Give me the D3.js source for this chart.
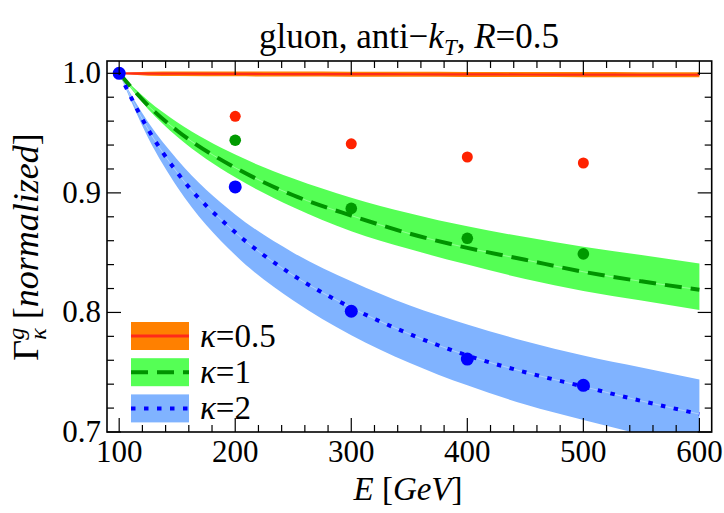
<!DOCTYPE html>
<html>
<head>
<meta charset="utf-8">
<script src="https://cdn.jsdelivr.net/npm/d3@7"></script>
<style>
  html, body { margin: 0; padding: 0; background: #fff; }
  svg text { font-family: "Liberation Serif", "Times New Roman", Times, serif; }
</style>
</head>
<body>
<svg id="chart"></svg>
<script>
// curve samples
const energies = [100, 125, 150, 200, 250, 300, 350, 400, 450, 500, 550, 600];

const redMid   = [1.0, 0.9998, 0.9997, 0.9995, 0.9994, 0.9993, 0.9992, 0.9991, 0.999, 0.9989, 0.9988, 0.9988];
const orangeHi = [1.0, 1.0014, 1.0016, 1.0016, 1.0015, 1.0014, 1.0013, 1.0012, 1.0011, 1.001, 1.0009, 1.0009];
const orangeLo = [1.0, 0.998, 0.9978, 0.9975, 0.9973, 0.9972, 0.9971, 0.997, 0.9969, 0.9968, 0.9967, 0.9967];

const greenMid = [1.0, 0.973, 0.952, 0.921, 0.898, 0.881, 0.866, 0.854, 0.844, 0.834, 0.826, 0.819];
const greenHi  = [1.0, 0.977, 0.959, 0.932, 0.912, 0.896, 0.883, 0.872, 0.863, 0.855, 0.848, 0.841];
const greenLo  = [1.0, 0.970, 0.947, 0.913, 0.888, 0.868, 0.853, 0.840, 0.828, 0.818, 0.810, 0.802];

const blueMid  = [1.0, 0.953, 0.917, 0.867, 0.831, 0.804, 0.782, 0.764, 0.750, 0.738, 0.726, 0.715];
const blueHi   = [1.0, 0.959, 0.928, 0.882, 0.850, 0.826, 0.806, 0.790, 0.776, 0.764, 0.754, 0.744];
const blueLo   = [1.0, 0.946, 0.905, 0.848, 0.810, 0.781, 0.758, 0.739, 0.723, 0.710, 0.698, 0.687];

// the dots
const pointE    = [100, 200, 300, 400, 500];
const redPts    = [1.0, 0.964, 0.941, 0.930, 0.925];
const greenPts  = [1.0, 0.944, 0.887, 0.862, 0.849];
const bluePts   = [1.0, 0.905, 0.801, 0.761, 0.739];

const xTicks = [100, 200, 300, 400, 500, 600];
const yTicks = [0.7, 0.8, 0.9, 1.0];
const legendLabels = ["0.5", "1", "2"];

const width = 724, height = 513;
const frame = { left: 107, right: 711.7, top: 61, bottom: 432 };

const svg = d3.select("#chart").attr("width", width).attr("height", height);

const x = d3.scaleLinear().domain([89.5, 610.6]).range([frame.left, frame.right]);
const y = d3.scaleLinear().domain([0.7, 1.0103]).range([frame.bottom, frame.top]);

svg.append("defs").append("clipPath").attr("id", "plotclip")
  .append("rect")
  .attr("x", frame.left).attr("y", frame.top)
  .attr("width", frame.right - frame.left).attr("height", frame.bottom - frame.top);

const plot = svg.append("g").attr("clip-path", "url(#plotclip)");

const area = (hi, lo) => d3.area()
  .x((d, i) => x(energies[i]))
  .y0((d, i) => y(lo[i]))
  .y1((d, i) => y(hi[i]))
  .curve(d3.curveMonotoneX)(energies);

const line = vals => d3.line()
  .x((d, i) => x(energies[i]))
  .y((d, i) => y(vals[i]))
  .curve(d3.curveMonotoneX)(energies);

const series = [
  { hi: orangeHi, lo: orangeLo, mid: redMid,   band: "#ff8000", stroke: "#ff2a1a", dash: null,      pts: redPts,   dot: "#ff2200", r: 5.5 },
  { hi: greenHi,  lo: greenLo,  mid: greenMid, band: "#55ff55", stroke: "#009300", dash: "17,9",    pts: greenPts, dot: "#009a00", r: 5.8 },
  { hi: blueHi,   lo: blueLo,   mid: blueMid,  band: "#80b3ff", stroke: "#0000ff", dash: "4.5,8.5", pts: bluePts,  dot: "#0000ff", r: 6.5 }
];

series.forEach(s => {
  plot.append("path").attr("d", area(s.hi, s.lo)).attr("fill", s.band);
});

series.forEach(s => {
  if (s.dash) {
    plot.append("path").attr("d", line(s.mid))
      .attr("fill", "none").attr("stroke", "#ffffff").attr("stroke-opacity", 0.45).attr("stroke-width", 0.8);
  }
  plot.append("path").attr("d", line(s.mid))
    .attr("fill", "none")
    .attr("stroke", s.stroke)
    .attr("stroke-width", s.dash ? 4 : 2.2)
    .attr("stroke-dasharray", s.dash);
});

series.forEach(s => {
  plot.selectAll(null).data(pointE).enter().append("circle")
    .attr("cx", d => x(d))
    .attr("cy", (d, i) => y(s.pts[i]))
    .attr("r", s.r)
    .attr("fill", s.dot);
});

// frame with inward ticks on all four sides
const axes = svg.append("g").attr("stroke", "#000").attr("fill", "none");
axes.append("rect")
  .attr("x", frame.left).attr("y", frame.top)
  .attr("width", frame.right - frame.left).attr("height", frame.bottom - frame.top)
  .attr("stroke-width", 1.6);

const xMinor = d3.range(100, 601, 20);
const yMinor = d3.range(70, 101, 2).map(v => v / 100);

xMinor.forEach(v => {
  const len = v % 100 === 0 ? 14 : 7;
  axes.append("line").attr("x1", x(v)).attr("x2", x(v)).attr("y1", frame.bottom).attr("y2", frame.bottom - len).attr("stroke-width", 1.2);
  axes.append("line").attr("x1", x(v)).attr("x2", x(v)).attr("y1", frame.top).attr("y2", frame.top + len).attr("stroke-width", 1.2);
});
yMinor.forEach(v => {
  const len = Math.abs(v * 10 - Math.round(v * 10)) < 1e-6 ? 14 : 7;
  axes.append("line").attr("y1", y(v)).attr("y2", y(v)).attr("x1", frame.left).attr("x2", frame.left + len).attr("stroke-width", 1.2);
  axes.append("line").attr("y1", y(v)).attr("y2", y(v)).attr("x1", frame.right).attr("x2", frame.right - len).attr("stroke-width", 1.2);
});

svg.selectAll(".xlab").data(xTicks).enter().append("text")
  .attr("class", "xlab")
  .attr("x", d => x(d)).attr("y", 462)
  .attr("text-anchor", "middle")
  .style("font-size", "31px")
  .text(d => d);

svg.selectAll(".ylab").data(yTicks).enter().append("text")
  .attr("class", "ylab")
  .attr("x", 101).attr("y", d => y(d) + 10)
  .attr("text-anchor", "end")
  .style("font-size", "31px")
  .text(d => d3.format(".1f")(d));

// title
const title = svg.append("text").attr("x", 409).attr("y", 48).attr("text-anchor", "middle").style("font-size", "35px");
title.append("tspan").text("gluon, anti\u2212");
title.append("tspan").style("font-style", "italic").text("k");
title.append("tspan").style("font-style", "italic").style("font-size", "23px").attr("dy", 7).text("T");
title.append("tspan").attr("dy", -7).text(", ");
title.append("tspan").style("font-style", "italic").text("R");
title.append("tspan").text("=0.5");

// x label
const xl = svg.append("text").attr("x", 408).attr("y", 500).attr("text-anchor", "middle").style("font-size", "33px");
xl.append("tspan").style("font-style", "italic").text("E");
xl.append("tspan").text(" [");
xl.append("tspan").style("font-style", "italic").text("GeV");
xl.append("tspan").text("]");

// y label, rotated
const yl = svg.append("text").attr("transform", "translate(38,247) rotate(-90)").attr("text-anchor", "middle").style("font-size", "36px");
yl.append("tspan").text("\u0393");
yl.append("tspan").style("font-style", "italic").style("font-size", "24px").attr("dy", -14).text("g");
yl.append("tspan").style("font-style", "italic").style("font-size", "24px").attr("dx", -12).attr("dy", 22).text("\u03ba");
yl.append("tspan").attr("dy", -8).text(" [");
yl.append("tspan").style("font-style", "italic").text("normalized");
yl.append("tspan").text("]");

// legend
const legend = svg.append("g");
series.forEach((s, i) => {
  const cy = 336 + i * 36.2;
  legend.append("rect").attr("x", 131).attr("y", cy - 14).attr("width", 58).attr("height", 28).attr("fill", s.band);
  legend.append("line").attr("x1", 131).attr("x2", 189).attr("y1", cy).attr("y2", cy)
    .attr("stroke", s.stroke).attr("stroke-width", s.dash ? 4 : 3).attr("stroke-dasharray", s.dash);
  const t = legend.append("text").attr("x", 200).attr("y", cy + 11).style("font-size", "33px");
  t.append("tspan").style("font-style", "italic").text("\u03ba");
  t.append("tspan").text("=" + legendLabels[i]);
});
</script>
</body>
</html>
